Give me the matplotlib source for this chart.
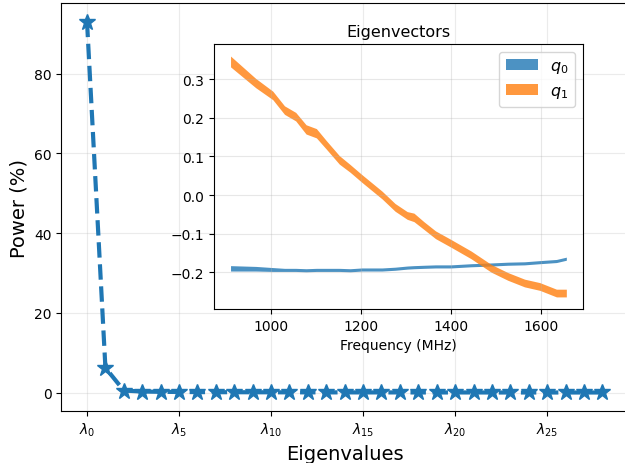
import matplotlib
matplotlib.use("Agg")
import matplotlib.pyplot as plt
import numpy as np

# eigenvalue power (%)
power = [93.0, 6.2, 0.5, 0.25, 0.18, 0.14, 0.11, 0.09, 0.08, 0.07, 0.06, 0.05, 0.05, 0.04,
         0.04, 0.03, 0.03, 0.03, 0.02, 0.02, 0.02, 0.02, 0.01, 0.01, 0.01, 0.01, 0.01, 0.01, 0.01]
tick_pos = [0, 5, 10, 15, 20, 25]

# eigenvectors over frequency
freq = [910, 966, 1004, 1030, 1055, 1078, 1101, 1123, 1152, 1176, 1202, 1247, 1276, 1303,
        1318, 1340, 1366, 1400, 1445, 1490, 1527, 1564, 1598, 1635, 1657]
q1 = [0.346, 0.290, 0.258, 0.220, 0.203, 0.170, 0.160, 0.130, 0.091, 0.069, 0.043, 0.000,
      -0.032, -0.053, -0.058, -0.079, -0.103, -0.125, -0.155, -0.190, -0.211, -0.228,
      -0.237, -0.254, -0.254]
q1_err = [0.014, 0.012, 0.011, 0.011, 0.011, 0.012, 0.012, 0.011, 0.011, 0.010, 0.010, 0.010,
          0.010, 0.010, 0.011, 0.010, 0.010, 0.010, 0.010, 0.010, 0.010, 0.010, 0.010, 0.010, 0.010]
q0 = [-0.190, -0.191, -0.193, -0.194, -0.194, -0.195, -0.194, -0.194, -0.194, -0.195, -0.193,
      -0.193, -0.191, -0.188, -0.187, -0.186, -0.185, -0.185, -0.182, -0.180, -0.178, -0.177,
      -0.174, -0.171, -0.165]
q0_err = [0.007, 0.006, 0.005, 0.004, 0.004, 0.004, 0.004, 0.004, 0.004, 0.004, 0.004, 0.004,
          0.004, 0.004, 0.004, 0.004, 0.004, 0.004, 0.004, 0.004, 0.004, 0.004, 0.004, 0.004, 0.004]

fig = plt.figure(figsize=(6.25, 4.64), dpi=100)
ax = fig.add_axes([0.098, 0.112, 0.907, 0.879])

x = np.arange(len(power))
ax.plot(x, power, "--*", color="tab:blue", lw=3, ms=12)
ax.set_xticks(tick_pos)
ax.set_xticklabels([r"$\lambda_{%d}$" % t for t in tick_pos])
ax.set_xlabel("Eigenvalues", fontsize=14)
ax.set_ylabel("Power (%)", fontsize=14)
ax.grid(alpha=0.25)

ins = fig.add_axes([0.342, 0.332, 0.591, 0.571])
f = np.array(freq)
ins.fill_between(f, np.array(q0) - q0_err, np.array(q0) + q0_err, color="tab:blue", alpha=0.8,
                 lw=0, label="$q_0$")
ins.fill_between(f, np.array(q1) - q1_err, np.array(q1) + q1_err, color="tab:orange", alpha=0.8,
                 lw=0, label="$q_1$")
ins.set_title("Eigenvectors", fontsize=11.5)
ins.set_xlabel("Frequency (MHz)")
ins.set_xticks([1000, 1200, 1400, 1600])
ins.grid(alpha=0.3)
ins.legend(fontsize=11.5, loc="upper right")

fig.savefig("out.png", dpi=100)
